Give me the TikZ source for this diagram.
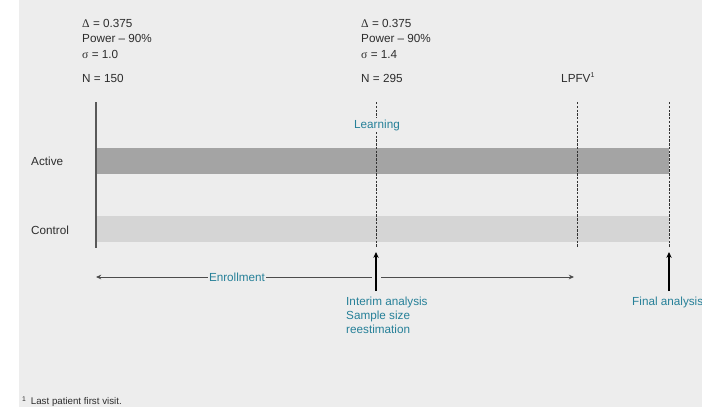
\documentclass[tikz,border=0pt]{standalone}
\usepackage{fontspec}
\setmainfont{Liberation Sans}
\newfontfamily\grk{Liberation Serif}
\usetikzlibrary{arrows.meta, positioning}
\definecolor{panelbg}{RGB}{237,237,237}
\definecolor{armdark}{RGB}{164,164,164}
\definecolor{armlight}{RGB}{213,213,213}
\definecolor{tealtxt}{RGB}{38,128,152}
\definecolor{inktxt}{RGB}{45,45,45}

\begin{document}
\begin{tikzpicture}[x=0.03cm, y=-0.03cm,
    txt/.style={anchor=base west, inner sep=0pt, text=inktxt,
                font=\fontsize{10}{12}\selectfont},
    lbl/.style={inner sep=0pt, text=tealtxt, font=\fontsize{10}{11.9}\selectfont},
    vdash/.style={dash pattern=on 2pt off 1.2pt, line width=0.8pt, black!80},
    upar/.style={-{Stealth[length=5pt, width=4.5pt]}, line width=0.9pt, black},
    enr/.style={-{Stealth[length=4.5pt, width=4pt]}, line width=0.7pt, black!70}
  ]
  \useasboundingbox (0,0) rectangle (702,407);
  \fill[panelbg] (19,0) rectangle (702,407);

  % Assumptions at start and at interim
  \node[txt] (d1) at (82,27)   {{\grk Δ} = 0.375};
  \node[txt] (p1) at (82,42.5) {Power – 90\%};
  \node[txt] (s1) at (82,58)   {{\grk σ} = 1.0};
  \node[txt] (n1) at (82,82)   {N = 150};
  \node[txt] (d2) at (361,27)   {{\grk Δ} = 0.375};
  \node[txt] (p2) at (361,42.5) {Power – 90\%};
  \node[txt] (s2) at (361,58)   {{\grk σ} = 1.4};
  \node[txt] (n2) at (361,82)   {N = 295};
  \node[txt] (lpfv) at (561,82) {LPFV\textsuperscript{\fontsize{6}{6}\selectfont 1}};

  % Treatment arms
  \fill[armdark]  (96,148) rectangle (669,174);
  \fill[armlight] (96,216) rectangle (669,242);
  \node[txt, anchor=west] (active)  at (31,161) {Active};
  \node[txt, anchor=west] (control) at (31,230) {Control};
  \draw[line width=1pt, black!65] (96,102) -- (96,248);

  % Milestones
  \draw[vdash] (376,102) -- (376,248);
  \draw[vdash] (577,102) -- (577,248);
  \draw[vdash] (669,102) -- (669,248);
  \node[lbl, fill=panelbg, inner sep=1pt] (learn) at (377,125) {Learning};

  % Enrollment
  \node[lbl, fill=panelbg, inner sep=1pt] (enroll) at (237,277) {Enrollment};
  \coordinate (enrL) at (96,277);
  \coordinate (enrM) at (372,277);
  \coordinate (enrN) at (381,277);
  \coordinate (enrR) at (574,277);
  \draw[enr] (enroll.west) -- (enrL);
  \draw[line width=0.7pt, black!70] (enroll.east) -- (enrM);
  \draw[enr] (enrN) -- (enrR);

  % Analyses
  \coordinate (ia0) at (376,291);
  \coordinate (ia1) at (376,252);
  \coordinate (fa0) at (669,291);
  \coordinate (fa1) at (669,252);
  \draw[upar] (ia0) -- (ia1);
  \draw[upar] (fa0) -- (fa1);
  \node[lbl, anchor=north west, align=left] (interim) at (346,297)
    {Interim analysis\\Sample size\\reestimation};
  \node[lbl, anchor=north west] (final) at (632,297) {Final analysis};

  \node[txt, font=\fontsize{8.3}{10}\selectfont] (fn) at (22,404.5)
    {\textsuperscript{1}\, Last patient first visit.};
\end{tikzpicture}
\end{document}
